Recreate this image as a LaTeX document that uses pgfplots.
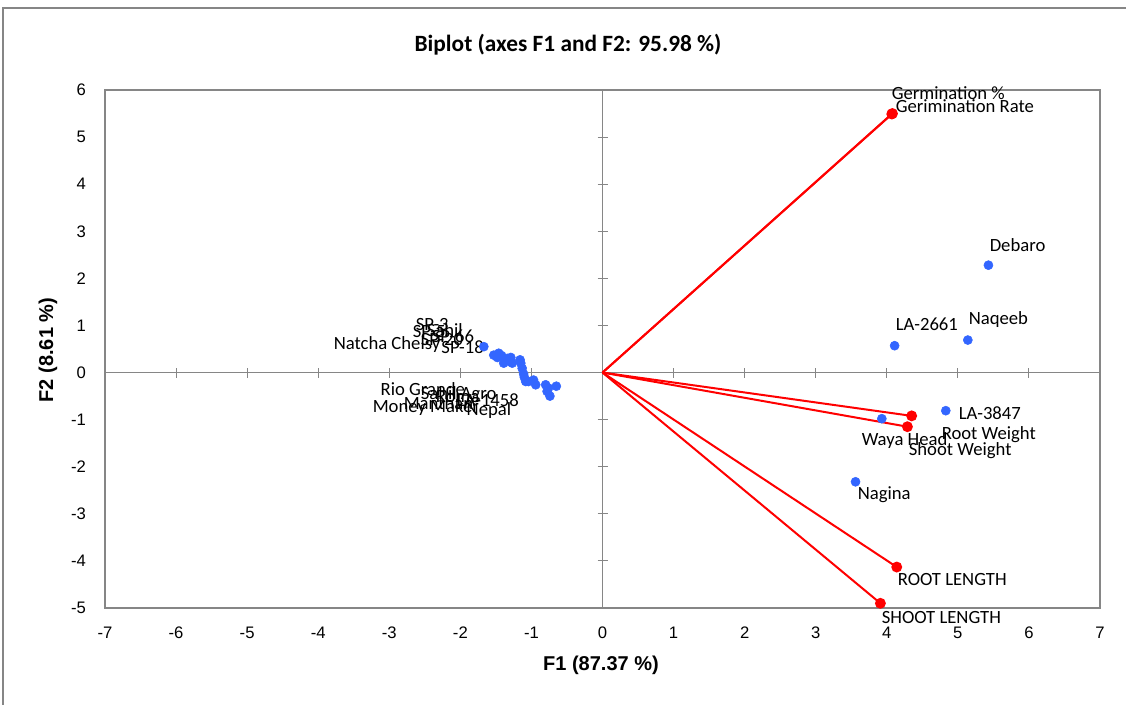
\documentclass[border=0pt]{standalone}
\usepackage{pgfplots}
\pgfplotsset{compat=1.18}
\usepackage{fontspec}
\setmainfont{Carlito}
\newfontfamily\arialfont{Liberation Sans}
\definecolor{obsblue}{HTML}{3366FF}
\definecolor{framegray}{HTML}{868686}

\begin{document}
\begin{tikzpicture}
% 1 px of the reference = 0.75pt
\useasboundingbox (0,0) rectangle (844.5pt,528pt);
\draw[framegray, line width=0.8pt] (2.25pt,-15pt) rectangle (855pt,522pt);

\node[font=\fontsize{17.5}{19}\selectfont\bfseries] at (426pt,494.25pt)
    {Biplot (axes F1 and F2: 95.98 \%)};
\node[font=\arialfont\fontsize{15}{17}\selectfont\bfseries] at (450.75pt,29.25pt)
    {F1 (87.37 \%)};
\node[font=\arialfont\fontsize{15}{17}\selectfont\bfseries, rotate=90] at (36pt,265.5pt)
    {F2 (8.61 \%)};

\begin{axis}[
    at={(78.75pt,72pt)}, anchor=south west,
    scale only axis,
    width=746.25pt, height=388.5pt,
    xmin=-7, xmax=7, ymin=-5, ymax=6,
    xtick={-7,...,7}, ytick={-5,...,6},
    major tick length=0pt,
    axis line style={framegray, line width=1pt},
    tick label style={font=\arialfont\fontsize{12.5}{14}\selectfont},
    /pgf/number format/assume math mode=true,
    xticklabel style={yshift=-10.8pt},
    yticklabel style={xshift=-10.8pt},
    clip=false,
]

% zero lines with their ticks
\draw[framegray, line width=0.8pt] (axis cs:-7,0) -- (axis cs:7,0);
\draw[framegray, line width=0.8pt] (axis cs:0,-5) -- (axis cs:0,6);
\pgfplotsinvokeforeach{-6,...,6}{
    \draw[framegray, line width=0.8pt] (axis cs:#1,0) ++(0pt,-3.75pt) -- ++(0pt,7.5pt);
}
\pgfplotsinvokeforeach{-4,...,5}{
    \draw[framegray, line width=0.8pt] (axis cs:0,#1) ++(-3.75pt,0pt) -- ++(7.5pt,0pt);
}

% observations
\addplot[only marks, mark=*, mark size=3.4pt, color=obsblue] coordinates {
    (-1.67,0.55) (-1.53,0.37) (-1.46,0.41) (-1.48,0.32) (-1.42,0.36)
    (-1.39,0.20) (-1.34,0.30) (-1.29,0.32) (-1.27,0.20) (-1.31,0.24)
    (-1.16,0.27) (-1.15,0.20) (-1.13,0.09) (-1.11,-0.03) (-1.10,-0.10)
    (-1.08,-0.19) (-1.04,-0.19) (-0.97,-0.16) (-0.94,-0.26) (-0.80,-0.26)
    (-0.76,-0.33) (-0.78,-0.40) (-0.74,-0.50) (-0.65,-0.29)
    (5.43,2.28) (5.14,0.69) (4.11,0.57) (4.83,-0.81) (3.93,-0.98) (3.56,-2.32)
};

% variables
\pgfplotsset{vec/.style={red, line width=1.5pt, mark=*, mark size=3.3pt,
    mark indices={2}, mark options={solid, fill=red}}}
\addplot[vec] coordinates {(0,0) (4.08,5.50)};
\addplot[vec] coordinates {(0,0) (4.07,5.49)};
\addplot[vec] coordinates {(0,0) (4.35,-0.92)};
\addplot[vec] coordinates {(0,0) (4.29,-1.15)};
\addplot[vec] coordinates {(0,0) (4.14,-4.13)};
\addplot[vec] coordinates {(0,0) (3.91,-4.90)};

% labels
\tikzset{lab/.style={anchor=west, inner sep=0pt, font=\fontsize{14}{16}\selectfont}}
\node[lab] at (axis cs:4.066,5.936) {Germination \%};
\node[lab] at (axis cs:4.123,5.66) {Gerimination Rate};
\node[lab] at (axis cs:4.77,-1.325) {Root Weight};
\node[lab] at (axis cs:4.306,-1.665) {Shoot Weight};
\node[lab] at (axis cs:4.151,-4.403) {ROOT LENGTH};
\node[lab] at (axis cs:3.926,-5.21) {SHOOT LENGTH};
\node[lab] at (axis cs:5.445,2.709) {Debaro};
\node[lab] at (axis cs:5.15,1.117) {Naqeeb};
\node[lab] at (axis cs:4.123,1.032) {LA-2661};
\node[lab] at (axis cs:5.009,-0.858) {LA-3847};
\node[lab] at (axis cs:3.644,-1.452) {Waya Head};
\node[lab] at (axis cs:3.588,-2.599) {Nagina};

\node[lab] at (axis cs:-3.785,0.586) {Natcha Chelsy};
\node[lab] at (axis cs:-2.63,1.01) {SP-3};
\node[lab] at (axis cs:-2.673,0.862) {SP-5};
\node[lab] at (axis cs:-2.476,0.904) {Sahil};
\node[lab] at (axis cs:-2.406,0.777) {SP-66};
\node[lab] at (axis cs:-2.561,0.692) {SP-20};
\node[lab] at (axis cs:-2.27,0.544) {SP-18};

\node[lab] at (axis cs:-3.124,-0.347) {Rio Grande};
\node[lab] at (axis cs:-2.561,-0.47) {Sahil Agro};
\node[lab] at (axis cs:-2.35,-0.52) {Roma};
\node[lab] at (axis cs:-2.80,-0.64) {Manthan};
\node[lab] at (axis cs:-2.054,-0.58) {LA-1458};
\node[lab] at (axis cs:-3.236,-0.752) {Money Maker};
\node[lab] at (axis cs:-1.914,-0.815) {Nepal};

\end{axis}
\end{tikzpicture}
\end{document}
